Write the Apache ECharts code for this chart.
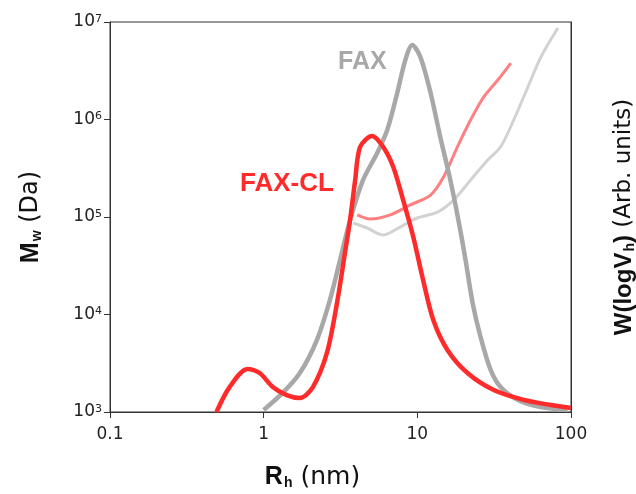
<!DOCTYPE html>
<html>
<head>
<meta charset="utf-8">
<script src="https://cdn.jsdelivr.net/npm/echarts@6/dist/echarts.min.js"></script>
<style>
  html, body { margin: 0; padding: 0; background: #fff; }
  #chart { width: 636px; height: 494px; }
</style>
</head>
<body>
<div id="chart"></div>
<script>
// size distribution W(logVh), FAX-CL (thick red)
var clDistR = [0.493, 0.60, 0.785, 0.942, 1.146, 1.41, 1.72, 2.09, 2.58, 3.0, 3.38, 3.65, 3.94, 4.24, 5.08, 6.0, 6.97, 8.09, 9.41, 10.9, 12.7, 15.7, 21.2, 31.4, 49.3, 74.0, 100];
var clDistW = [1000, 1800, 2760, 2510, 1800, 1490, 1390, 1800, 4030, 13100, 42800, 93100, 239000, 522000, 677000, 522000, 326000, 149000, 62400, 22600, 8790, 4330, 2510, 1680, 1330, 1180, 1100];

// size distribution W(logVh), FAX (thick grey)
var faxDistR = [1.0, 1.33, 1.72, 2.22, 2.70, 3.14, 3.65, 4.43, 5.48, 6.37, 7.40, 8.35, 9.27, 10.47, 12.2, 14.1, 16.4, 18.5, 20.6, 22.9, 25.8, 30.0, 34.8, 45.1, 63.7, 95];
var faxDistW = [1050, 1570, 2510, 5470, 14100, 36200, 93100, 239000, 453000, 780000, 1870000, 4070000, 5810000, 4380000, 1870000, 662000, 239000, 93100, 36200, 13100, 5880, 2700, 1800, 1330, 1125, 1050];

// Mw vs Rh, FAX-CL (light red)
var clMwR = [4.06, 4.93, 6.67, 9.0, 12.2, 14.8, 18.2, 22.2, 27.0, 33.4, 40.6];
var clMw = [105000, 95300, 105000, 133000, 168000, 257000, 522000, 989000, 1700000, 2540000, 3790000];

// Mw vs Rh, FAX (light grey)
var faxMwR = [3.82, 4.71, 6.0, 7.74, 10, 13.5, 17.2, 22.2, 28.7, 34.8, 42.4, 52.4, 63.7, 82.2];
var faxMw = [86800, 77100, 65300, 78900, 97700, 112000, 149000, 239000, 385000, 522000, 989000, 2150000, 4380000, 8680000];

function zip(a, b) {
    return a.map(function(v, i) { return [v, b[i]]; });
}

var font = 'DejaVu Sans';
var myChart = echarts.init(document.getElementById('chart'));
var option = {
    animation: false,
    grid: {
        left: 110,
        right: 65,
        top: 22,
        bottom: 82,
        outerBoundsMode: 'none',
        show: true,
        borderColor: '#333',
        borderWidth: 1
    },
    xAxis: {
        type: 'log',
        logBase: 10,
        min: 0.1,
        max: 100,
        name: '{b|R}{s|h} (nm)',
        nameLocation: 'middle',
        nameGap: 52,
        nameTextStyle: {
            fontFamily: font,
            fontSize: 25,
            color: '#111',
            padding: [0, 56, 0, 0],
            rich: {
                b: { fontFamily: 'Liberation Sans', fontWeight: 'bold', fontSize: 25, color: '#111' },
                s: { fontFamily: 'Liberation Sans', fontWeight: 'bold', fontSize: 14, color: '#111', verticalAlign: 'bottom', padding: [12, 0, 0, 1] }
            }
        },
        axisLine: { lineStyle: { color: '#333', width: 1 } },
        axisTick: { length: 6, lineStyle: { color: '#333' } },
        splitLine: { show: false },
        axisLabel: {
            fontFamily: font,
            fontSize: 17,
            color: '#222',
            margin: 14,
            formatter: function(v) { return v < 1 ? v.toFixed(1) : String(Math.round(v)); }
        }
    },
    yAxis: [{
        type: 'log',
        logBase: 10,
        min: 1000,
        max: 10000000,
        name: '{b|M}{s|w} (Da)',
        nameLocation: 'middle',
        nameGap: 66,
        nameRotate: 90,
        nameTextStyle: {
            fontFamily: font,
            fontSize: 24,
            color: '#111',
            rich: {
                b: { fontFamily: 'Liberation Sans', fontWeight: 'bold', fontSize: 25, color: '#111' },
                s: { fontFamily: 'Liberation Sans', fontWeight: 'bold', fontSize: 14, color: '#111', verticalAlign: 'bottom', padding: [12, 0, 0, 1] }
            }
        },
        axisLine: { show: true, lineStyle: { color: '#333', width: 1 } },
        axisTick: { show: true, length: 6, lineStyle: { color: '#333' } },
        splitLine: { show: false },
        axisLabel: {
            fontFamily: font,
            fontSize: 17,
            color: '#222',
            margin: 8,
            formatter: function(v) { return '10{sup|' + Math.round(Math.log10(v)) + '}'; },
            rich: {
                sup: { fontFamily: font, fontSize: 11, color: '#222', verticalAlign: 'top', padding: [0, 0, 6, 0] }
            }
        }
    }, {
        type: 'value',
        position: 'right',
        min: 0,
        max: 1,
        name: '{b|W(logV}{s|h}{b|)} (Arb. units)',
        nameLocation: 'middle',
        nameGap: 40,
        nameRotate: 90,
        nameTextStyle: {
            fontFamily: font,
            fontSize: 23,
            color: '#111',
            rich: {
                b: { fontFamily: 'Liberation Sans', fontWeight: 'bold', fontSize: 24, color: '#111' },
                s: { fontFamily: 'Liberation Sans', fontWeight: 'bold', fontSize: 14, color: '#111', verticalAlign: 'bottom', padding: [12, 0, 0, 1] }
            }
        },
        axisLine: { show: true, lineStyle: { color: '#333', width: 1 } },
        axisTick: { show: false },
        axisLabel: { show: false },
        splitLine: { show: false }
    }],
    series: [{
        name: 'FAX Mw',
        type: 'line',
        data: zip(faxMwR, faxMw),
        smooth: 0.3,
        symbol: 'none',
        lineStyle: { color: '#d2d2d2', width: 3 }
    }, {
        name: 'FAX-CL Mw',
        type: 'line',
        data: zip(clMwR, clMw),
        smooth: 0.3,
        symbol: 'none',
        lineStyle: { color: '#ff8080', width: 3 }
    }, {
        name: 'FAX',
        type: 'line',
        data: zip(faxDistR, faxDistW),
        smooth: 0.3,
        symbol: 'none',
        lineStyle: { color: '#a8a8a8', width: 4.5 }
    }, {
        name: 'FAX-CL',
        type: 'line',
        data: zip(clDistR, clDistW),
        smooth: 0.3,
        symbol: 'none',
        lineStyle: { color: '#ff2a2a', width: 4.5 }
    }],
    graphic: [{
        type: 'text',
        left: 338,
        top: 50,
        style: { text: 'FAX', fontFamily: 'Liberation Sans', fontWeight: 'bold', fontSize: 25, fill: '#a8a8a8' }
    }, {
        type: 'text',
        left: 240,
        top: 171,
        style: { text: 'FAX-CL', fontFamily: 'Liberation Sans', fontWeight: 'bold', fontSize: 26, fill: '#ff2a2a' }
    }]
};
myChart.setOption(option);
</script>
</body>
</html>
